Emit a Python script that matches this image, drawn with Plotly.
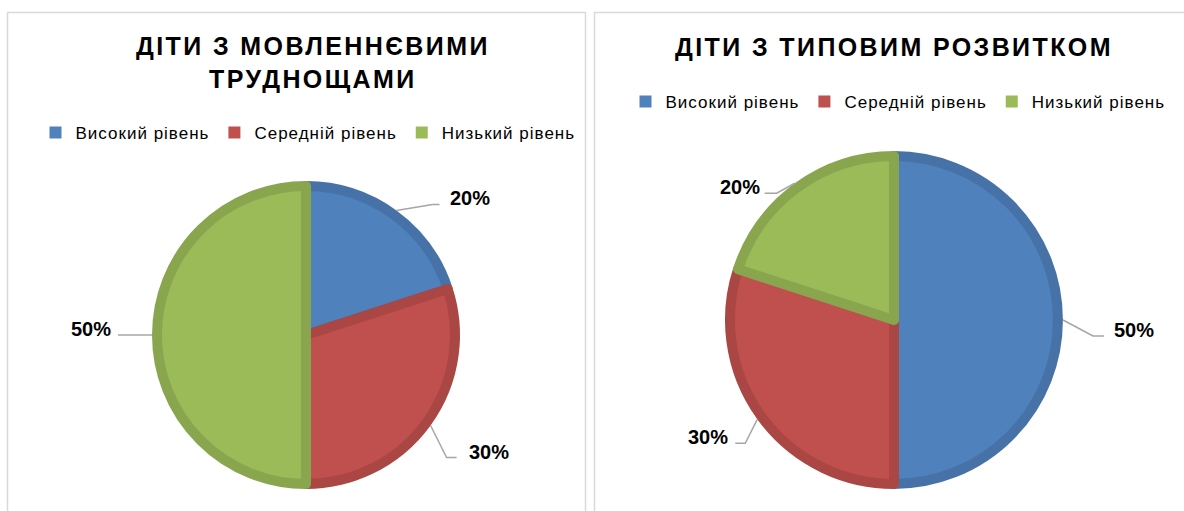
import math
import plotly.graph_objects as go

W, H = 1184, 511

# ---- data ----
categories = ["Високий рівень", "Середній рівень", "Низький рівень"]
speech_values = [20, 30, 50]
typical_values = [50, 30, 20]
title_speech = ["ДІТИ З МОВЛЕННЄВИМИ", "ТРУДНОЩАМИ"]
title_typical = ["ДІТИ З ТИПОВИМ РОЗВИТКОМ"]

# ---- styles ----
FONT = "Arial, 'Liberation Sans', sans-serif"
fills = ["#4F81BD", "#C0504D", "#9BBB59"]
edges = ["#4672A8", "#AA4744", "#89A64F"]
BORDER = 10
LEADER = "#A6A6A6"

panels = [
    dict(values=speech_values, title=title_speech, cx=306, cy=335, r=154,
         title_x=313, title_y=62, legend="legend", group="speech", leg_x=308, leg_y=133,
         elbows=[(36, -6), (16, 32), (-34, 0)], hlen=[7, 10, 0], gap=[8, 10, 5],
         box=(7.5, 585.5)),
    dict(values=typical_values, title=title_typical, cx=894, cy=320, r=169,
         title_x=894, title_y=47, legend="legend2", group="typical", leg_x=898, leg_y=102,
         elbows=[(30, 16), (-12, 24), (-18, 10)], hlen=[11, 10, 12], gap=[8, 5, 3],
         box=(594.5, 1190)),
]

legend_labels = [f"<span style='letter-spacing:1px'>{c}</span>" for c in categories]


def px(x):
    return x / W


def py(y):
    return 1 - y / H


def dom(cx, cy, rad):
    return dict(x=[px(cx - rad), px(cx + rad)], y=[py(cy + rad), py(cy - rad)])


fig = go.Figure()
shapes = []
annotations = []

for p in panels:
    # base pie (solid fills; provides the legend swatches)
    fig.add_trace(go.Pie(
        labels=legend_labels, values=p["values"], sort=False,
        direction="clockwise", rotation=0, textinfo="none",
        marker=dict(colors=fills, line=dict(width=0)),
        domain=dom(p["cx"], p["cy"], p["r"] - 2),
        legend=p["legend"], legendgroup=p["group"], showlegend=True,
        hoverinfo="label+percent",
    ))
    # visible pie with darker inner rim on each slice
    rd = p["r"] - BORDER / 2
    fig.add_trace(go.Pie(
        labels=legend_labels, values=p["values"], sort=False,
        direction="clockwise", rotation=0, textinfo="none",
        marker=dict(colors=fills, line=dict(color=edges, width=BORDER)),
        domain=dom(p["cx"], p["cy"], rd),
        legend=p["legend"], legendgroup=p["group"], showlegend=False,
        hoverinfo="label+percent",
    ))
    # panel frame
    x0, x1 = p["box"]
    shapes.append(dict(type="rect", xref="paper", yref="paper",
                       x0=px(x0), x1=px(x1), y0=py(530), y1=py(12.5),
                       line=dict(color="#D9D9D9", width=1.5), layer="below"))
    # title
    txt = "<br>".join(f"<b><span style='letter-spacing:2.4px'>{ln}</span></b>" for ln in p["title"])
    annotations.append(dict(text=txt, x=px(p["title_x"]), y=py(p["title_y"]),
                            xref="paper", yref="paper", showarrow=False,
                            xanchor="center", yanchor="middle",
                            font=dict(family=FONT, size=25, color="#000000")))
    # data labels with leader lines
    total = sum(p["values"])
    cum = 0
    for i, v in enumerate(p["values"]):
        a = math.radians((cum + v / 2) / total * 360)
        cum += v
        ax = p["cx"] + p["r"] * math.sin(a)
        ay = p["cy"] - p["r"] * math.cos(a)
        ex, ey = ax + p["elbows"][i][0], ay + p["elbows"][i][1]
        side = 1 if p["elbows"][i][0] > 0 else -1
        hx = ex + side * p["hlen"][i]
        path = f"M {px(ax)} {py(ay)} L {px(ex)} {py(ey)} L {px(hx)} {py(ey)}"
        shapes.append(dict(type="path", xref="paper", yref="paper", path=path,
                           line=dict(color=LEADER, width=1.5)))
        tx = hx + side * p["gap"][i]
        annotations.append(dict(text=f"<b>{v}%</b>", x=px(tx), y=py(ey - 6),
                                xref="paper", yref="paper", showarrow=False,
                                xanchor="left" if side > 0 else "right",
                                yanchor="middle",
                                font=dict(family=FONT, size=20, color="#000000")))

legend_common = dict(orientation="h", xanchor="center", yanchor="middle",
                     xref="paper", yref="paper", itemwidth=30,
                     font=dict(family=FONT, size=17, color="#000000"),
                     bgcolor="rgba(0,0,0,0)", traceorder="normal")
fig.update_layout(
    width=W, height=H, margin=dict(l=0, r=0, t=0, b=0),
    paper_bgcolor="white", plot_bgcolor="white",
    showlegend=True,
    legend=dict(x=px(panels[0]["leg_x"]), y=py(panels[0]["leg_y"]), **legend_common),
    legend2=dict(x=px(panels[1]["leg_x"]), y=py(panels[1]["leg_y"]), **legend_common),
    shapes=shapes, annotations=annotations,
)

fig.write_html("out.html")
